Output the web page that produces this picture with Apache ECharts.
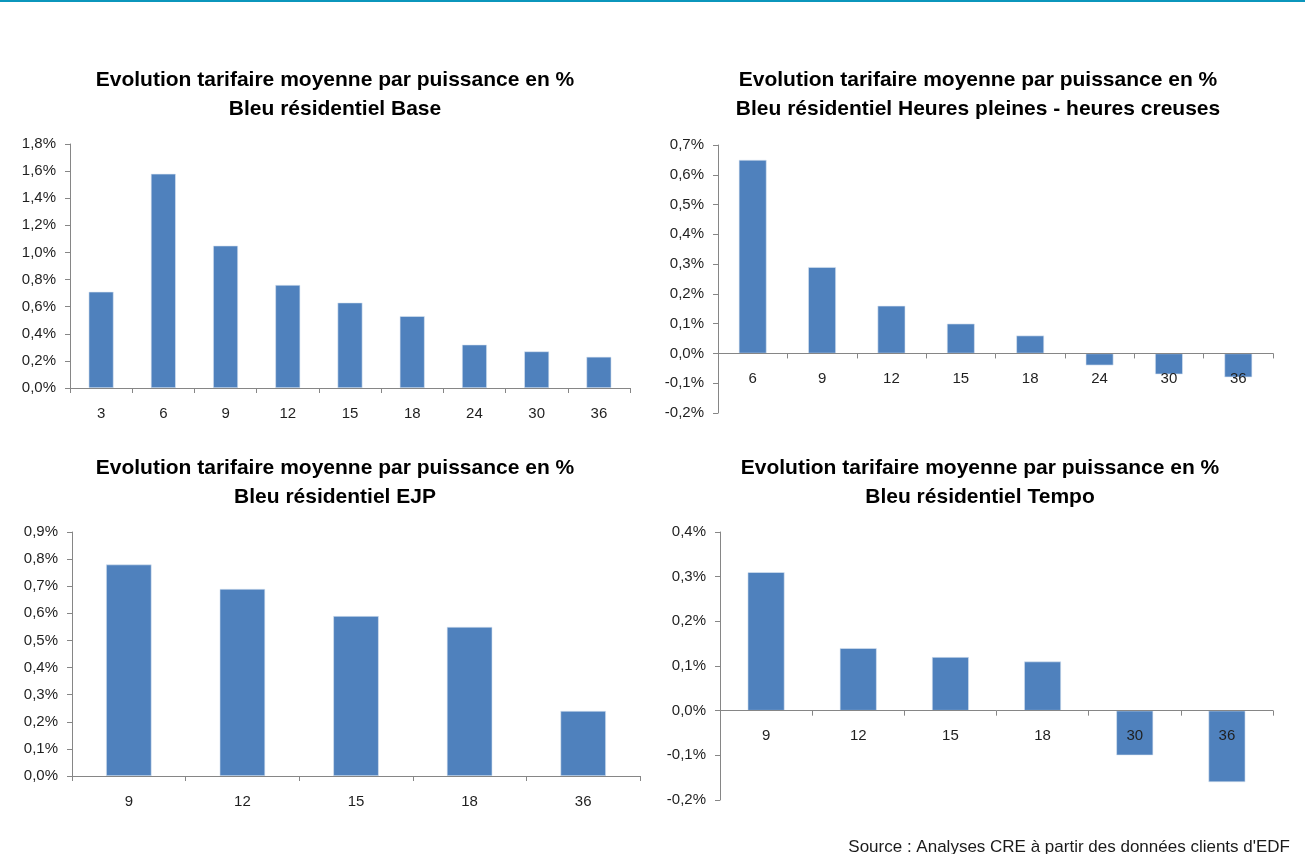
<!DOCTYPE html>
<html>
<head>
<meta charset="utf-8">
<script src="https://cdn.jsdelivr.net/npm/echarts@6/dist/echarts.min.js"></script>
<style>
  html, body { margin: 0; padding: 0; background: #fff; }
  #main { width: 1305px; height: 854px; }
</style>
</head>
<body>
<div id="main"></div>
<script>
// données (évolution en %)
const baseCats = ['3', '6', '9', '12', '15', '18', '24', '30', '36']
const baseVals = [0.71, 1.58, 1.05, 0.76, 0.63, 0.53, 0.32, 0.27, 0.23]

const hphcCats = ['6', '9', '12', '15', '18', '24', '30', '36']
const hphcVals = [0.65, 0.29, 0.16, 0.10, 0.06, -0.04, -0.07, -0.08]

const ejpCats = ['9', '12', '15', '18', '36']
const ejpVals = [0.78, 0.69, 0.59, 0.55, 0.24]

const tempoCats = ['9', '12', '15', '18', '30', '36']
const tempoVals = [0.31, 0.14, 0.12, 0.11, -0.10, -0.16]

const titleLine1 = 'Evolution tarifaire moyenne par puissance en %'
const subtitles = [
  'Bleu résidentiel Base',
  'Bleu résidentiel Heures pleines - heures creuses',
  'Bleu résidentiel EJP',
  'Bleu résidentiel Tempo'
]

// config des 4 panneaux
const panels = [
  { cats: baseCats, vals: baseVals, min: 0, max: 1.8, step: 0.2, grid: { left: 70, top: 144, width: 560, height: 244 }, cx: 330, ty: 61 },
  { cats: hphcCats, vals: hphcVals, min: -0.2, max: 0.7, step: 0.1, grid: { left: 718, top: 145, width: 555, height: 268 }, cx: 973, ty: 61 },
  { cats: ejpCats, vals: ejpVals, min: 0, max: 0.9, step: 0.1, grid: { left: 72, top: 532, width: 568, height: 244 }, cx: 330, ty: 449 },
  { cats: tempoCats, vals: tempoVals, min: -0.2, max: 0.4, step: 0.1, grid: { left: 720, top: 532, width: 553, height: 268 }, cx: 975, ty: 449 }
]

const axisGray = '#868686'
const textColor = '#1f1f1f'
const font = 'Liberation Sans'

function pct(v) {
  return v.toFixed(1).replace('.', ',') + '%'
}

// l'axe des x suit la ligne du zéro (étiquettes comprises)
function zeroOffset(p) {
  return -p.grid.height * (0 - p.min) / (p.max - p.min)
}

const chart = echarts.init(document.getElementById('main'), null, { renderer: 'canvas' })

const option = {
  backgroundColor: '#fff',
  animation: false,
  title: panels.map((p, i) => ({
    text: titleLine1 + '\n' + subtitles[i],
    left: p.cx,
    top: p.ty,
    textAlign: 'center',
    textStyle: {
      fontFamily: font,
      fontSize: 21,
      fontWeight: 'bold',
      color: '#000',
      lineHeight: 29
    }
  })),
  grid: panels.map(p => Object.assign({ containLabel: false }, p.grid)),
  xAxis: panels.map((p, i) => ({
    type: 'category',
    gridIndex: i,
    data: p.cats,
    z: 10,
    offset: zeroOffset(p),
    axisLine: { onZero: false, lineStyle: { color: axisGray, width: 1 } },
    axisTick: { show: true, length: 5, lineStyle: { color: axisGray } },
    axisLabel: { fontFamily: font, fontSize: 15, color: textColor, margin: 18 }
  })),
  yAxis: panels.map((p, i) => ({
    type: 'value',
    gridIndex: i,
    min: p.min,
    max: p.max,
    interval: p.step,
    splitLine: { show: false },
    axisLine: { show: true, lineStyle: { color: axisGray, width: 1 } },
    axisTick: { show: true, length: 5, lineStyle: { color: axisGray } },
    axisLabel: { fontFamily: font, fontSize: 15, color: textColor, margin: 14, formatter: pct }
  })),
  series: panels.map((p, i) => ({
    type: 'bar',
    xAxisIndex: i,
    yAxisIndex: i,
    data: p.vals,
    barCategoryGap: '60%',
    itemStyle: { color: '#4F81BD', borderColor: '#DCE6F2', borderWidth: 0.6 }
  })),
  graphic: [
    {
      type: 'rect',
      left: 0,
      top: 0,
      shape: { width: 1305, height: 2 },
      style: { fill: '#0B96BC' }
    },
    {
      type: 'text',
      right: 15,
      top: 839,
      style: {
        text: "Source : Analyses CRE à partir des données clients d'EDF",
        font: '17px "Liberation Sans"',
        fill: '#1a1a1a'
      }
    }
  ]
}

chart.setOption(option)
</script>
</body>
</html>
